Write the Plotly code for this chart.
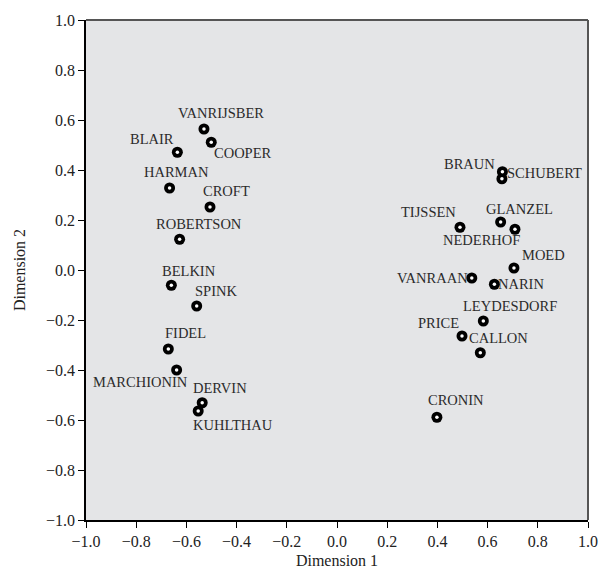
import plotly.graph_objects as go

# ---- data ----
names = ["VANRIJSBER", "BLAIR", "COOPER", "HARMAN", "CROFT", "ROBERTSON",
         "BELKIN", "SPINK", "FIDEL", "MARCHIONIN", "DERVIN", "KUHLTHAU",
         "BRAUN", "SCHUBERT", "TIJSSEN", "GLANZEL", "NEDERHOF", "MOED",
         "VANRAAN", "NARIN", "LEYDESDORF", "PRICE", "CALLON", "CRONIN"]
dim1 = [-0.530, -0.636, -0.501, -0.667, -0.506, -0.627,
        -0.660, -0.559, -0.672, -0.639, -0.537, -0.553,
        0.659, 0.657, 0.490, 0.652, 0.709, 0.705,
        0.537, 0.627, 0.583, 0.498, 0.571, 0.398]
dim2 = [0.564, 0.471, 0.511, 0.328, 0.252, 0.123,
        -0.061, -0.144, -0.316, -0.400, -0.531, -0.564,
        0.393, 0.365, 0.171, 0.192, 0.163, 0.008,
        -0.032, -0.057, -0.204, -0.264, -0.331, -0.589]
tick_vals = [-1.0, -0.8, -0.6, -0.4, -0.2, 0.0, 0.2, 0.4, 0.6, 0.8, 1.0]

# ---- label placement (pixel offsets from marker; style only) ----
label_offsets = {
    "VANRIJSBER": (17, -16), "BLAIR": (-25, -13), "COOPER": (32, 11),
    "HARMAN": (7, -16), "CROFT": (17, -16), "ROBERTSON": (19, -15),
    "BELKIN": (18, -14), "SPINK": (19, -15), "FIDEL": (17, -16),
    "MARCHIONIN": (-36, 12), "DERVIN": (18, -15), "KUHLTHAU": (35, 14),
    "BRAUN": (-33, -8), "SCHUBERT": (43, -6), "TIJSSEN": (-31, -15),
    "GLANZEL": (19, -13), "NEDERHOF": (-33, 11), "MOED": (30, -13),
    "VANRAAN": (-39, 0), "NARIN": (27, 0), "LEYDESDORF": (27, -15),
    "PRICE": (-24, -13), "CALLON": (18, -15), "CRONIN": (19, -17),
}

FONT = "Liberation Serif, Times New Roman, serif"

fig = go.Figure()
fig.add_trace(go.Scatter(x=dim1, y=dim2, mode="markers",
                         marker=dict(size=11, color="black", line=dict(width=0)),
                         hoverinfo="skip", showlegend=False))
fig.add_trace(go.Scatter(x=dim1, y=dim2, mode="markers",
                         marker=dict(size=3.5, color="white", line=dict(width=0)),
                         text=names, hoverinfo="text", showlegend=False))

for n, x, y in zip(names, dim1, dim2):
    dx, dy = label_offsets[n]
    fig.add_annotation(x=x, y=y, text=n, showarrow=False,
                       xanchor="center", yanchor="middle",
                       xshift=dx, yshift=-dy,
                       font=dict(family=FONT, size=14.5, color="#2b2b2b"))

# top & right frame lines (gray)
fig.add_shape(type="line", xref="paper", yref="paper", x0=0, x1=1, y0=1, y1=1,
              line=dict(color="#555555", width=2))
fig.add_shape(type="line", xref="paper", yref="paper", x0=1, x1=1, y0=0, y1=1,
              line=dict(color="#555555", width=2))

axis_common = dict(range=[-1, 1], tickvals=tick_vals, tickformat=".1f",
                   showgrid=False, zeroline=False, showline=True,
                   linecolor="black", linewidth=1.5, automargin=False,
                   ticks="outside", ticklen=6, tickwidth=1.2, tickcolor="black",
                   tickfont=dict(family=FONT, size=16, color="#222222"),
                   title_font=dict(family=FONT, size=16, color="#222222"))

fig.update_xaxes(**axis_common, title_text="Dimension 1", title_standoff=6)
fig.update_yaxes(**axis_common, title_text="Dimension 2", title_standoff=16)

fig.update_layout(width=601, height=575,
                  margin=dict(l=86, r=13, t=20, b=55),
                  plot_bgcolor="#e4e5e7", paper_bgcolor="white",
                  showlegend=False)

fig.write_html("out.html", config={"displayModeBar": False},
               post_script="document.body.style.margin='0';document.body.style.overflow='hidden';")
